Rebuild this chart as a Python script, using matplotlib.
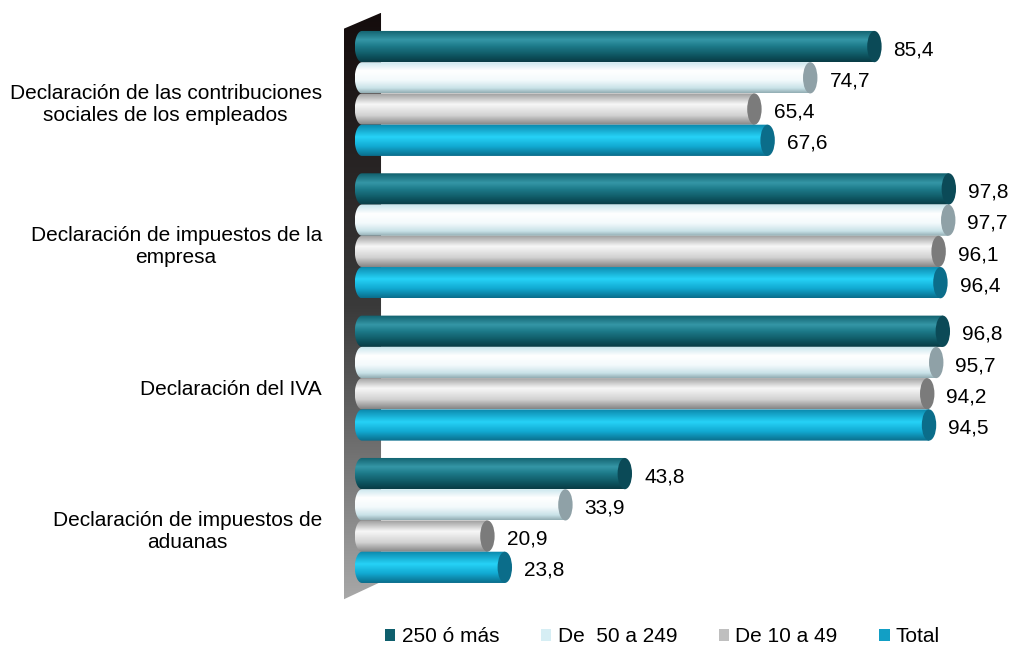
import numpy as np
import matplotlib
matplotlib.use("Agg")
import matplotlib.pyplot as plt
from matplotlib.patches import Polygon, Ellipse, Patch
from matplotlib.colors import LinearSegmentedColormap

plt.rcParams['font.family'] = ['Liberation Sans', 'DejaVu Sans']

# datos
categorias = [
    "Declaración de las contribuciones\nsociales de los empleados",
    "Declaración de impuestos de la\nempresa",
    "Declaración del IVA",
    "Declaración de impuestos de\naduanas",
]
series = ["250 ó más", "De  50 a 249", "De 10 a 49", "Total"]
v_250 = [85.4, 97.8, 96.8, 43.8]
v_50_249 = [74.7, 97.7, 95.7, 33.9]
v_10_49 = [65.4, 96.1, 94.2, 20.9]
v_total = [67.6, 96.4, 94.5, 23.8]
valores = [v_250, v_50_249, v_10_49, v_total]

# estilo de los cilindros
gradientes = [
    [(0, "#11606d"), (0.3, "#3596a6"), (0.5, "#1d7b8a"), (0.85, "#0c4f5a"), (1, "#093c45")],
    [(0, "#c6e4ec"), (0.3, "#ffffff"), (0.6, "#f3fafc"), (0.85, "#c9e2e8"), (1, "#93aeb4")],
    [(0, "#9c9c9c"), (0.35, "#f7f7f7"), (0.7, "#d2d2d2"), (1, "#858585")],
    [(0, "#0b87ab"), (0.4, "#26d2f7"), (0.7, "#12aad2"), (1, "#0a6e8c")],
]
tapas = ["#0b4a57", "#8fa1a7", "#7b7b7b", "#0b6d8a"]
leyenda_col = ["#0f5f6d", "#d6eef4", "#bfbfbf", "#129fc5"]

fig = plt.figure(figsize=(10.1, 6.48), dpi=100)
ax = fig.add_axes([0.3406, 1 - 610 / 648, 0.6416, 610 / 648])
ax.set_xlim(-3, 105)
ax.set_ylim(18.03, -1.49)
ax.axis("off")

paso_grupo = 4.555
alto = 1.0
ew = 2.4  # ancho de la elipse en unidades de datos

# pared izquierda con degradado
pared = Polygon([(-3.17, -0.56), (3.17, -1.08), (3.17, 17.13), (-3.17, 17.7)],
                closed=True, transform=ax.transData, facecolor="none", edgecolor="none")
ax.add_patch(pared)
grad_pared = LinearSegmentedColormap.from_list("pared", ["#140c0c", "#3a3a3a", "#a8a8a8"])
im = ax.imshow(np.linspace(0, 1, 256).reshape(-1, 1), cmap=grad_pared, aspect="auto",
               extent=(-3.17, 3.17, 17.7, -1.08), origin="upper", zorder=1)
im.set_clip_path(pared)

t = np.linspace(np.pi / 2, 3 * np.pi / 2, 40)
for g in range(len(categorias)):
    for j, vals in enumerate(valores):
        v = vals[g]
        y = g * paso_grupo + j
        cmap = LinearSegmentedColormap.from_list("s%d" % j, gradientes[j])
        xs = np.concatenate([ew / 2 * np.cos(t), [v, v]])
        ys = np.concatenate([y - alto / 2 * np.sin(t), [y + alto / 2, y - alto / 2]])
        forma = Polygon(np.column_stack([xs, ys]), closed=True, transform=ax.transData,
                        facecolor="none", edgecolor="none")
        ax.add_patch(forma)
        img = ax.imshow(np.linspace(0, 1, 64).reshape(-1, 1), cmap=cmap, aspect="auto",
                        extent=(-ew / 2, v, y + alto / 2, y - alto / 2), origin="upper",
                        zorder=2 + j * 0.1 + g)
        img.set_clip_path(forma)
        ax.add_patch(Ellipse((v, y), ew, alto, facecolor=tapas[j], edgecolor="none",
                             zorder=2.05 + j * 0.1 + g))
        ax.text(v + 3.2, y + 0.1, ("%.1f" % v).replace(".", ","), ha="left", va="center",
                fontsize=15, color="black")
    ax.text(-6.7, g * paso_grupo + 1.5 + 0.35, categorias[g], ha="right", va="center",
            multialignment="center", fontsize=15, color="black", clip_on=False)

ax.set_xlim(-3, 105)
ax.set_ylim(18.03, -1.49)

handles = [Patch(facecolor=c, edgecolor="none") for c in leyenda_col]
fig.legend(handles, series, loc="center", bbox_to_anchor=(0.656, 1 - 637 / 648), ncol=4,
           frameon=False, fontsize=15, handlelength=0.5, handleheight=0.5,
           handletextpad=0.3, columnspacing=2.0)

fig.savefig("out.png", dpi=100)
